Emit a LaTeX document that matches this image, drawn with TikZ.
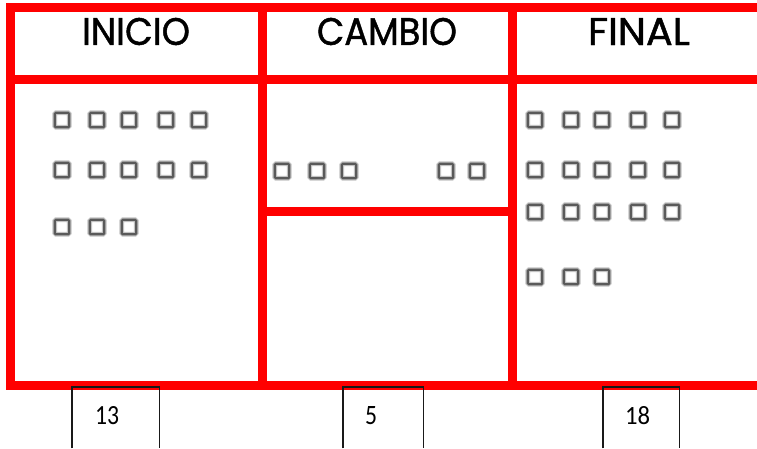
\documentclass[tikz,border=0pt]{standalone}
\usepackage{fontspec}
\usepackage{graphicx}
\newfontfamily\headfont[FakeBold=1.2]{Poppins}
\newfontfamily\numfont{Carlito}
\definecolor{tablered}{RGB}{255,0,0}
\definecolor{boxgray}{RGB}{90,90,90}
\definecolor{halogray}{RGB}{195,195,195}
\tikzset{
  redline/.style={draw=tablered, line width=9pt, line join=miter},
  chk/.style={draw=boxgray, line width=2.4pt, minimum size=14.5pt, inner sep=0pt,
    rounded corners=1.2pt, preaction={draw=halogray, line width=4.6pt}},
  countbox/.style={draw=none, inner sep=0pt, anchor=north},
  frame/.style={draw=black!90, line width=1.4pt},
  head/.style={inner sep=0pt, anchor=center},
  num/.style={inner sep=0pt, anchor=center}
}
\begin{document}
\begin{tikzpicture}[x=1pt,y=-1pt]
\useasboundingbox (0,0) rectangle (757,448);
\fill[white] (0,0) rectangle (757,448);
% grid corners
\coordinate (tr) at (757,7.5);
\coordinate (tl) at (10.5,7.5);
\coordinate (bl) at (10.5,385.5);
\coordinate (br) at (757,385.5);
\coordinate (hl) at (10.5,79);
\coordinate (hr) at (757,79);
\coordinate (v1t) at (262.5,7.5);
\coordinate (v1b) at (262.5,385.5);
\coordinate (v2t) at (512.5,7.5);
\coordinate (v2b) at (512.5,385.5);
\coordinate (ml) at (262.5,211.5);
\coordinate (mr) at (512.5,211.5);
\draw[redline] (tr) -- (tl) -- (bl) -- (br);
\draw[redline] (hl) -- (hr);
\draw[redline] (v1t) -- (v1b);
\draw[redline] (v2t) -- (v2b);
\draw[redline] (ml) -- (mr);
% headers
\node[head] (hinicio) at (136,31.5) {\resizebox{108pt}{27pt}{\headfont INICIO}};
\node[head] (hcambio) at (387,31.5) {\resizebox{140pt}{27pt}{\headfont CAMBIO}};
\node[head] (hfinal) at (639,31.5) {\resizebox{102pt}{27pt}{\headfont FINAL}};
% INICIO squares
\foreach \x [count=\i] in {62,97,129,166,199}{
  \node[chk] (ia\i) at (\x,120) {};
  \node[chk] (ib\i) at (\x,170) {};
}
\foreach \x [count=\i] in {62,97,129}{
  \node[chk] (ic\i) at (\x,227) {};
}
% CAMBIO squares
\foreach \x [count=\i] in {282,317,349,446,477}{
  \node[chk] (ca\i) at (\x,171) {};
}
% FINAL squares
\foreach \x [count=\i] in {535,571,602,638,672}{
  \node[chk] (fa\i) at (\x,120) {};
  \node[chk] (fb\i) at (\x,170) {};
  \node[chk] (fc\i) at (\x,212) {};
}
\foreach \x [count=\i] in {535,571,602}{
  \node[chk] (fd\i) at (\x,277) {};
}
% count boxes
\node[countbox, minimum width=87pt, minimum height=61pt] (b13) at (115.5,387) {};
\node[countbox, minimum width=80pt, minimum height=61pt] (b5) at (383,387) {};
\node[countbox, minimum width=76pt, minimum height=61pt] (b18) at (641,387) {};
\foreach \b in {b13,b5,b18}{
  \draw[frame] (\b.south west) -- (\b.north west) -- (\b.north east) -- (\b.south east);
}
\node[num] (n13) at (107,416) {\resizebox{24pt}{18pt}{\numfont 13}};
\node[num] (n5) at (371,416) {\resizebox{12pt}{18pt}{\numfont 5}};
\node[num] (n18) at (637.5,416) {\resizebox{25pt}{18pt}{\numfont 18}};
\end{tikzpicture}
\end{document}
